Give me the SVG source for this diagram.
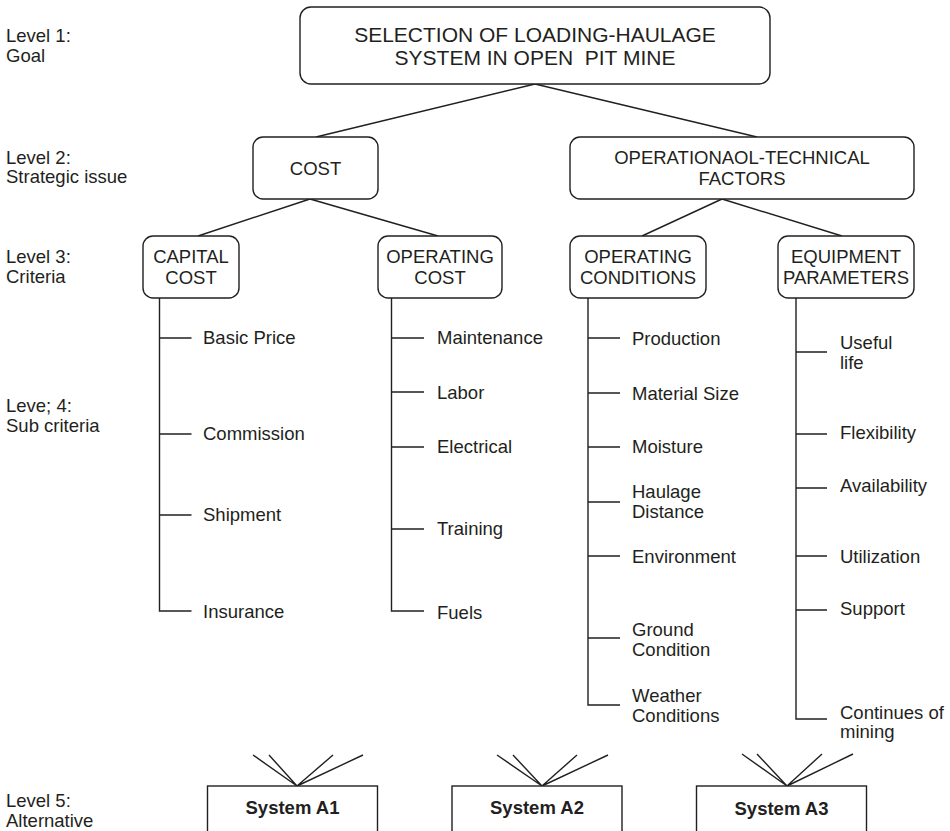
<svg xmlns="http://www.w3.org/2000/svg" width="950" height="831" viewBox="0 0 950 831">
<style>
text{font-family:"Liberation Sans",Arial,Helvetica,sans-serif;font-size:18.5px;fill:#231f20}
.c{text-anchor:middle}
.big{font-size:21px}
.pre{white-space:pre}
.b{font-weight:bold}
.box{fill:#fff;stroke:#231f20;stroke-width:1.4}
.ln{fill:none;stroke:#231f20;stroke-width:1.4}
</style>
<rect width="950" height="831" fill="#fff"/>
<g id="level-labels">
<text x="6" y="42">Level 1:</text><text x="6" y="62">Goal</text>
<text x="6" y="164">Level 2:</text><text x="6" y="183">Strategic issue</text>
<text x="6" y="263">Level 3:</text><text x="6" y="283">Criteria</text>
<text x="6" y="412">Leve; 4:</text><text x="6" y="432">Sub criteria</text>
<text x="6" y="807">Level 5:</text><text x="6" y="827">Alternative</text>
</g>
<g id="connectors" class="ln">
<path class="ln" d="M535 84L316 137M535 84L757 137"/>
<path class="ln" d="M310 199L198 236M310 199L438 236"/>
<path class="ln" d="M722 199L642 236M722 199L842 236"/>
<path class="ln" d="M159.5 298V611H191.5M159.5 338H191.5M159.5 434H191.5M159.5 515H191.5"/>
<path class="ln" d="M391.5 298V611H424M391.5 338H424M391.5 392H424M391.5 447H424M391.5 529H424"/>
<path class="ln" d="M588 298V705H620M588 338H620M588 393H620M588 447H620M588 502H620M588 556H620M588 638H620"/>
<path class="ln" d="M796 298V719H827M796 352H827M796 434H827M796 488H827M796 556H827M796 610H827"/>
<path class="ln" d="M253 755L297 786L269 755M333 755L297 786L363 755"/>
<path class="ln" d="M497 755L542 786L513 755M577 755L542 786L608 755"/>
<path class="ln" d="M742 754L787 786L757 754M822 754L787 786L853 754"/>
</g>
<g id="goal">
<rect class="box" x="300" y="7" width="470" height="77" rx="11"/>
<text class="c big" x="535" y="42">SELECTION OF LOADING-HAULAGE</text>
<text class="c big pre" x="535" y="65" xml:space="preserve">SYSTEM IN OPEN  PIT MINE</text>
</g>
<g id="cost">
<rect class="box" x="253" y="137" width="125" height="62" rx="10"/>
<text class="c" x="315.5" y="175">COST</text>
</g>
<g id="op-tech">
<rect class="box" x="570" y="137" width="344" height="62" rx="10"/>
<text class="c" x="742" y="164">OPERATIONAOL-TECHNICAL</text>
<text class="c" x="742" y="185">FACTORS</text>
</g>
<g id="capital-cost">
<rect class="box" x="143" y="236" width="96" height="62" rx="10"/>
<text class="c" x="191" y="263">CAPITAL</text>
<text class="c" x="191" y="284">COST</text>
</g>
<g id="operating-cost">
<rect class="box" x="378" y="236" width="124" height="62" rx="10"/>
<text class="c" x="440" y="263">OPERATING</text>
<text class="c" x="440" y="284">COST</text>
</g>
<g id="operating-conditions">
<rect class="box" x="570" y="236" width="136" height="62" rx="10"/>
<text class="c" x="638" y="263">OPERATING</text>
<text class="c" x="638" y="284">CONDITIONS</text>
</g>
<g id="equipment-parameters">
<rect class="box" x="778" y="236" width="136" height="62" rx="10"/>
<text class="c" x="846" y="263">EQUIPMENT</text>
<text class="c" x="846" y="284">PARAMETERS</text>
</g>
<g id="capital-sub">
<text x="203" y="344">Basic Price</text>
<text x="203" y="440">Commission</text>
<text x="203" y="521">Shipment</text>
<text x="203" y="618">Insurance</text>
</g>
<g id="operating-cost-sub">
<text x="437" y="344">Maintenance</text>
<text x="437" y="399">Labor</text>
<text x="437" y="453">Electrical</text>
<text x="437" y="535">Training</text>
<text x="437" y="619">Fuels</text>
</g>
<g id="operating-conditions-sub">
<text x="632" y="345">Production</text>
<text x="632" y="400">Material Size</text>
<text x="632" y="453">Moisture</text>
<text x="632" y="498">Haulage</text><text x="632" y="518">Distance</text>
<text x="632" y="563">Environment</text>
<text x="632" y="636">Ground</text><text x="632" y="656">Condition</text>
<text x="632" y="702">Weather</text><text x="632" y="722">Conditions</text>
</g>
<g id="equipment-sub">
<text x="840" y="349">Useful</text><text x="840" y="369">life</text>
<text x="840" y="439">Flexibility</text>
<text x="840" y="492">Availability</text>
<text x="840" y="563">Utilization</text>
<text x="840" y="615">Support</text>
<text x="840" y="719">Continues of</text><text x="840" y="738">mining</text>
</g>
<g id="system-a1">
<rect class="box" x="207.5" y="786" width="170" height="60"/>
<text class="c b" x="292.5" y="814">System A1</text>
</g>
<g id="system-a2">
<rect class="box" x="452" y="786" width="170" height="60"/>
<text class="c b" x="537" y="814">System A2</text>
</g>
<g id="system-a3">
<rect class="box" x="696.5" y="786" width="170" height="60"/>
<text class="c b" x="781.5" y="815">System A3</text>
</g>
</svg>
